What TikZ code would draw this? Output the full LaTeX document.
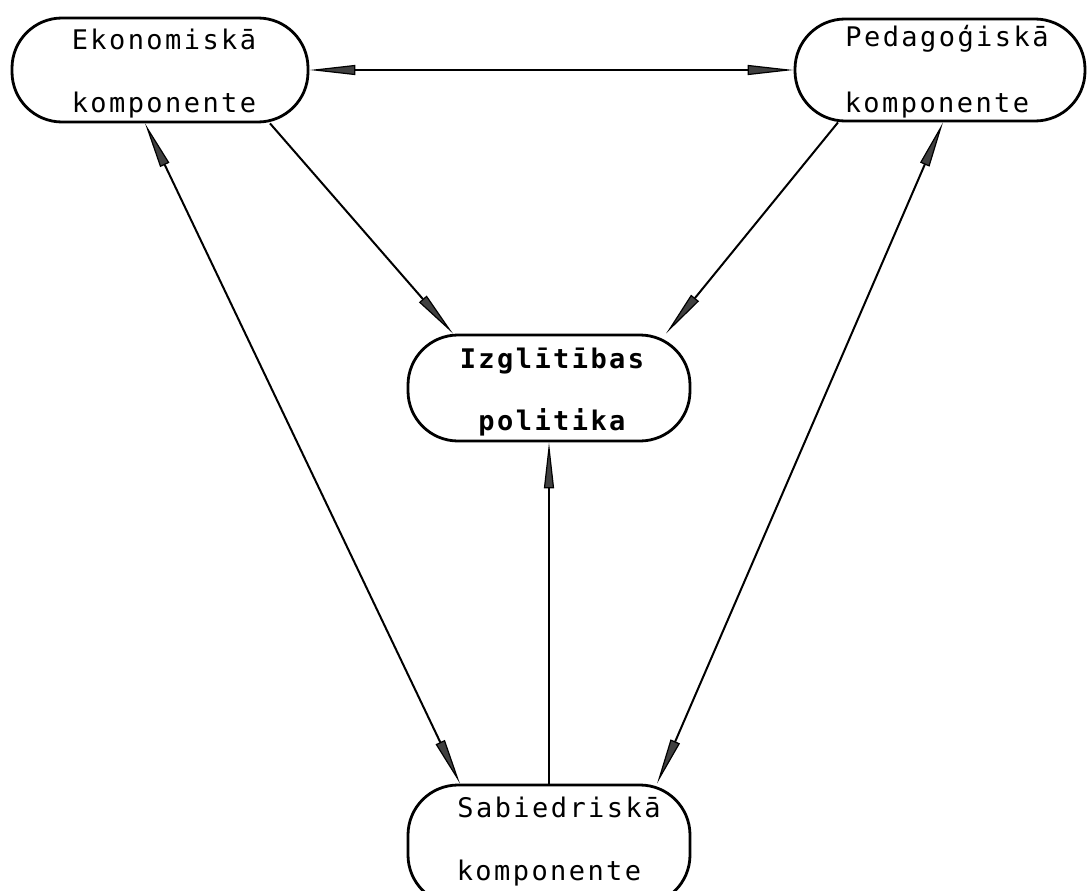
\documentclass[tikz,border=0pt]{standalone}
\usepackage{fontspec}
\newfontfamily\dmono[LetterSpace=9]{DejaVu Sans Mono}
\usetikzlibrary{arrows.meta}
\begin{document}
\begin{tikzpicture}[x=1pt,y=-1pt,
  box/.style={draw, line width=2.8pt, rounded corners=50pt, minimum width=#1, inner sep=0pt},
  lbl/.style={anchor=base, inner sep=0pt, font=\fontsize{27pt}{30pt}\dmono},
  blbl/.style={anchor=base, inner sep=0pt, font=\fontsize{27pt}{30pt}\dmono\bfseries},
  tip/.tip={Triangle[length=46pt,width=10pt,fill=black!75,line width=1.2pt]},
  conn/.style={line width=2pt}
]
\useasboundingbox (0,0) rectangle (1087,891);
\clip (0,0) rectangle (1087,891);
% boxes
\node[box=296pt, minimum height=104pt] (E) at (160,70) {};
\node[box=290pt, minimum height=102pt] (P) at (940,70) {};
\node[box=282pt, minimum height=106pt] (I) at (549,388) {};
\node[box=282pt, minimum height=120pt] (S) at (549,845) {};
% labels
\node[lbl] (E1) at (164,49) {Ekonomiskā};
\node[lbl] (E2) at (164,112) {komponente};
\node[lbl] (P1) at (947,47) {Pedagoģiskā};
\node[lbl] (P2) at (937,112) {komponente};
\node[blbl] (I1) at (552,368) {Izglītības};
\node[blbl] (I2) at (552,430) {politika};
\node[lbl] (S1) at (559,817) {Sabiedriskā};
\node[lbl] (S2) at (549,880) {komponente};
% connectors
\draw[conn, tip-tip] (E.east) -- (P.west);
\draw[conn, -tip] ([xshift=110pt]E.south) -- ([xshift=-96pt]I.north);
\draw[conn, -tip] ([xshift=-102pt]P.south) -- ([xshift=117pt]I.north);
\draw[conn, tip-tip] ([xshift=-15pt]E.south) -- ([xshift=-89pt]S.north);
\draw[conn, tip-tip] ([xshift=3pt]P.south) -- ([xshift=108pt]S.north);
\draw[conn, -tip] (S.north) -- (I.south);
\end{tikzpicture}
\end{document}
